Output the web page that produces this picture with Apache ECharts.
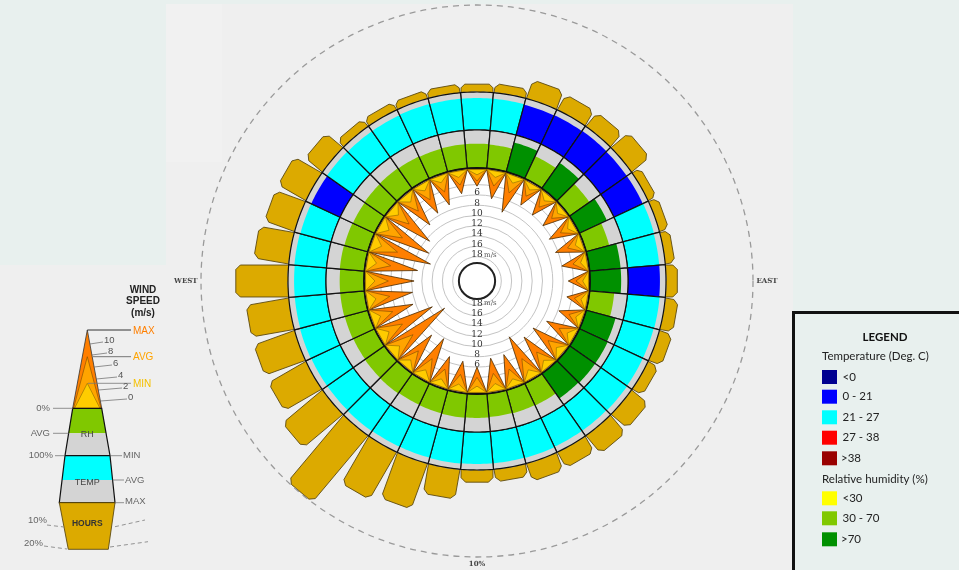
<!DOCTYPE html>
<html><head><meta charset="utf-8">
<script src="https://cdn.jsdelivr.net/npm/echarts@6/dist/echarts.min.js"></script>
<style>html,body{margin:0;padding:0;background:#e8f0ee;}#c{width:959px;height:570px;}</style>
</head><body><div id="c"></div>
<script>
// ---------------- DATA ----------------
const directions = [0,10,20,30,40,50,60,70,80,90,100,110,120,130,140,150,160,170,180,190,200,210,220,230,240,250,260,270,280,290,300,310,320,330,340,350];
const windMax = [4.3,6.5,8.5,5.7,6,6,6.5,6.5,6,5,5,5.8,7.1,8.5,8.5,10.2,7.5,7.5,6,6.9,7.1,9.8,9,14.5,12.7,9.5,10,10.5,11,13.1,11.9,10.7,8.5,7.5,7,5.5];
const windAvg = [3.3,4,4.5,3.7,4,3.8,4,4,3.8,3.5,3.5,3.7,4.3,4.7,4.7,5.3,4.5,4.5,4,4.3,4.5,5.3,5,6.5,6,5.3,5.5,5.5,5.7,6.3,6,5.5,5,4.5,4.3,3.8];
const windMin = [2.1,2.3,2.5,2.3,2.4,2.3,2.4,2.4,2.3,2.2,2.2,2.3,2.5,2.6,2.6,2.8,2.5,2.5,2.3,2.4,2.5,2.8,2.7,3.1,3,2.8,2.8,2.9,2.9,3,3,2.8,2.7,2.5,2.4,2.3];
const rhAvg = [64,63,80,65,82,64,80,63,82,82,65,80,82,82,80,64,63,62,63,64,63,62,64,63,62,63,64,64,65,64,63,64,65,64,63,64];
const tempAvg = [23,22,18,17,17,18,19,22,23,19,23,24,24,25,25,24,24,25,25,25,24,24,23,23,24,23,23,22,23,22,19,22,22,23,23,23];
const tempAvgPos = [84,84,83,84,85,84,84,85,84,84,85,84,84,85,84,84,85,84,84,85,84,84,85,84,84,85,84,84,85,84,84,85,84,84,85,84];
const hoursPct = [0.9,1.0,2.2,1.95,2.0,2.6,1.0,1.05,1.05,1.3,1.45,1.5,1.3,2.4,2.6,2.0,2.1,1.4,1.4,3.4,5.5,6.2,9.9,5.9,4.9,4.9,4.9,6.0,4.0,3.6,3.6,2.5,1.0,0.93,0.9,0.93];
const windGrid = [4,6,8,10,12,14,16,18];
const windTicks = [6,8,10,12,14,16,18];
const compassLabels = ['EAST','10%','WEST'];
const compassAngles = [90,180,270];
const tempLegend = ['<0','0 - 21','21 - 27','27 - 38','>38'];
const tempColors = ['#000090','#0000ff','#00ffff','#ff0000','#990000'];
const rhLegend = ['<30','30 - 70','>70'];
const rhColors = ['#ffff00','#80c800','#009000'];

// ---------------- HELPERS ----------------
const CX = 477, CY = 281, HALF = 5, WIND_BASE = 1, HUB_V = 19.2, NOTE_V = 10.4;
const GRAY = '#d4d4d4';
function tempColor(t){ return t<0?tempColors[0]:t<21?tempColors[1]:t<27?tempColors[2]:t<38?tempColors[3]:tempColors[4]; }
function rhColor(h){ return h<30?rhColors[0]:h<=70?rhColors[1]:rhColors[2]; }
function ringCell(api, v0, v1, a0, a1){
  const pts=[];
  for(let a=a0;a<=a1+1e-9;a+=1) pts.push(api.coord([v1,a]));
  for(let a=a1;a>=a0-1e-9;a-=1) pts.push(api.coord([v0,a]));
  return pts;
}
function dist(p,c){ return Math.hypot(p[0]-c.cx,p[1]-c.cy); }
function txt(text,x,y,font,fill,align,valign){
  return {type:'text', x:x, y:y, style:{text:text, font:font, fill:fill, align:align, verticalAlign:valign, textAlign:align, textVerticalAlign:valign}};
}

const chart = echarts.init(document.getElementById('c'), null, {renderer:'canvas'});

const series = [];
// hours bars
series.push({type:'custom', coordinateSystem:'polar', polarIndex:3, z:1, silent:true,
  data: directions.map((a,i)=>[hoursPct[i],a]),
  renderItem(params, api){
    const h=api.value(0), a=api.value(1);
    const p0=api.coord([-0.3,a]), p1=api.coord([h,a]);
    const l=api.coord([0,a-HALF]), r=api.coord([0,a+HALF]);
    const w=Math.hypot(r[0]-l[0],r[1]-l[1])/2*0.97;
    const len=Math.hypot(p1[0]-p0[0],p1[1]-p0[1]);
    const ux=(p1[0]-p0[0])/len, uy=(p1[1]-p0[1])/len, nx=-uy, ny=ux;
    const c=Math.min(4.5,len*0.35);
    const pts=[[p0[0]+nx*w,p0[1]+ny*w],[p1[0]+nx*w-ux*c,p1[1]+ny*w-uy*c],[p1[0]+nx*(w-c),p1[1]+ny*(w-c)],
      [p1[0]-nx*(w-c),p1[1]-ny*(w-c)],[p1[0]-nx*w-ux*c,p1[1]-ny*w-uy*c],[p0[0]-nx*w,p0[1]-ny*w]];
    return {type:'polygon', shape:{points:pts}, style:{fill:'#dcaa00', stroke:'#5c4a10', lineWidth:0.9}};
  }});
// temperature ring
series.push({type:'custom', coordinateSystem:'polar', polarIndex:2, z:2, silent:true,
  data: directions.map((a,i)=>[tempAvgPos[i],a]),
  renderItem(params, api){
    const v=api.value(0), a=api.value(1), i=params.dataIndex;
    return {type:'group', children:[
      {type:'polygon', shape:{points:ringCell(api,0,100,a-HALF,a+HALF)}, style:{fill:GRAY}},
      {type:'polygon', shape:{points:ringCell(api,0,v,a-HALF,a+HALF)}, style:{fill:tempColor(tempAvg[i])}},
      {type:'polygon', shape:{points:ringCell(api,0,100,a-HALF,a+HALF)}, style:{fill:'none', stroke:'#111', lineWidth:1.2}}
    ]};
  }});
// humidity ring
series.push({type:'custom', coordinateSystem:'polar', polarIndex:1, z:2, silent:true,
  data: directions.map((a,i)=>[rhAvg[i],a]),
  renderItem(params, api){
    const v=api.value(0), a=api.value(1);
    return {type:'group', children:[
      {type:'polygon', shape:{points:ringCell(api,0,100,a-HALF,a+HALF)}, style:{fill:GRAY}},
      {type:'polygon', shape:{points:ringCell(api,0,v,a-HALF,a+HALF)}, style:{fill:rhColor(v)}},
      {type:'polygon', shape:{points:ringCell(api,0,100,a-HALF,a+HALF)}, style:{fill:'none', stroke:'#111', lineWidth:1.2}}
    ]};
  }});
// inner white disk
series.push({type:'custom', coordinateSystem:'polar', polarIndex:1, z:3, silent:true,
  data:[[0,0]],
  renderItem(params, api){
    const c=params.coordSys, r=dist(api.coord([0,0]),c);
    return {type:'circle', shape:{cx:c.cx,cy:c.cy,r:r}, style:{fill:'#ffffff', stroke:'#111', lineWidth:1.8}};
  }});
// wind grid circles
series.push({type:'custom', coordinateSystem:'polar', polarIndex:0, z:4, silent:true,
  data: windGrid.map(t=>[t,0]),
  renderItem(params, api){
    const c=params.coordSys, r=dist(api.coord([api.value(0),0]),c);
    return {type:'circle', shape:{cx:c.cx,cy:c.cy,r:r}, style:{fill:'none', stroke:'#c4c4c4', lineWidth:1}};
  }});
// wind spikes
series.push({type:'custom', coordinateSystem:'polar', polarIndex:0, z:5, silent:true,
  data: directions.map((a,i)=>[windMax[i],a]),
  renderItem(params, api){
    const i=params.dataIndex, a=api.value(1);
    const tri=v=>[api.coord([WIND_BASE,a-HALF]),api.coord([v,a]),api.coord([WIND_BASE,a+HALF])];
    return {type:'group', children:[
      {type:'polygon', shape:{points:tri(api.value(0))}, style:{fill:'#ff7f00', stroke:'#4a2a00', lineWidth:0.8}},
      {type:'polygon', shape:{points:tri(windAvg[i])}, style:{fill:'#ffa400', stroke:'#7a4a00', lineWidth:0.6}},
      {type:'polygon', shape:{points:tri(windMin[i])}, style:{fill:'#ffcc00', stroke:'#8a6a00', lineWidth:0.6}}
    ]};
  }});
// hub circle
series.push({type:'custom', coordinateSystem:'polar', polarIndex:0, z:6, silent:true,
  data:[[HUB_V,0]],
  renderItem(params, api){
    const c=params.coordSys, r=dist(api.coord([api.value(0),0]),c);
    return {type:'circle', shape:{cx:c.cx,cy:c.cy,r:r}, style:{fill:'#ffffff', stroke:'#222', lineWidth:2}};
  }});
// wind tick labels
series.push({type:'custom', coordinateSystem:'polar', polarIndex:0, z:7, silent:true,
  data: windTicks.map(t=>[t,0]),
  renderItem(params, api){
    const t=api.value(0), top=api.coord([t,0]), bot=api.coord([t,180]);
    const f='9px "DejaVu Serif"';
    const ch=[txt(String(t),top[0],top[1]-2,f,'#333','center','middle'),
              txt(String(t),bot[0],bot[1]-2,f,'#333','center','middle')];
    if(t===windTicks[windTicks.length-1]){
      ch.push(txt('m/s',top[0]+7,top[1]-2,'7px "DejaVu Serif"','#555','left','middle'));
      ch.push(txt('m/s',bot[0]+7,bot[1]-2,'7px "DejaVu Serif"','#555','left','middle'));
    }
    return {type:'group', children:ch};
  }});
// compass labels
series.push({type:'custom', coordinateSystem:'polar', polarIndex:3, z:7, silent:true,
  data: compassAngles.map(a=>[NOTE_V,a]),
  renderItem(params, api){
    const i=params.dataIndex, p=api.coord([api.value(0),api.value(1)]);
    const align=['left','center','right'][i], valign=['middle','top','middle'][i];
    return txt(compassLabels[i],p[0],p[1],'bold 7px "DejaVu Serif"','#444',align,valign);
  }});

// ---------------- GRAPHIC (backgrounds, keys) ----------------
const G=[];
G.push({type:'rect', z:-10, shape:{x:166,y:4,width:627,height:566}, style:{fill:'#efefef'}});
G.push({type:'rect', z:-10, shape:{x:0,y:265,width:166,height:305}, style:{fill:'#efefef'}});
G.push({type:'rect', z:-9, shape:{x:166,y:4,width:56,height:158}, style:{fill:'#f1f1f1'}});
function T(text,x,y,opt){ opt=opt||{}; return {type:'text', x:x, y:y, z:50, style:{text:text, font:opt.font||'9.5px "Liberation Sans"', fill:opt.fill||'#666',
  align:opt.align||'left', verticalAlign:'middle', textAlign:opt.align||'left', textVerticalAlign:'middle'}}; }
function P(points,fill,stroke,lw){ return {type:'polygon', z:40, shape:{points:points}, style:{fill:fill, stroke:stroke||null, lineWidth:lw||0}}; }
function L(x1,y1,x2,y2,color,lw,dash){ return {type:'line', z:45, shape:{x1:x1,y1:y1,x2:x2,y2:y2}, style:{stroke:color||'#555', lineWidth:lw||1, lineDash:dash||null}}; }
// wind key
G.push(T('WIND',143,290,{font:'bold 10px "Liberation Sans"',fill:'#222',align:'center'}));
G.push(T('SPEED',143,301.7,{font:'bold 10px "Liberation Sans"',fill:'#222',align:'center'}));
G.push(T('(m/s)',143,313.3,{font:'bold 10px "Liberation Sans"',fill:'#222',align:'center'}));
G.push(P([[87.3,330],[72.7,408.3],[101.7,408.3]],'#ff7f00','#333',0.8));
G.push(P([[87.3,356.7],[73.5,408.3],[101,408.3]],'#ffa400','#7a4a00',0.6));
G.push(P([[87.3,383.3],[74.5,408.3],[100,408.3]],'#ffcc00','#8a6a00',0.6));
G.push(L(87.3,330,131,330,'#333',1)); G.push(T('MAX',133,331,{fill:'#ff7f00',font:'10px "Liberation Sans"'}));
G.push(L(93,356.7,131,356.7,'#555',0.8)); G.push(T('AVG',133,357.5,{fill:'#ffa400',font:'10px "Liberation Sans"'}));
G.push(L(88,383.3,131,383.3,'#777',0.8)); G.push(T('MIN',133,384.5,{fill:'#f5c000',font:'10px "Liberation Sans"'}));
[['10',104,340],['8',108,351],['6',113,363],['4',118,375],['2',123,386],['0',128,397]].forEach(s=>{
  G.push(T(s[0],s[1],s[2],{fill:'#555',font:'9.5px "Liberation Sans"'}));
  const ey=s[2]+4, ex=87.3+(ey-330)/78.3*14.5;
  G.push(L(ex,ey,s[1]-1,s[2]+2,'#666',0.7));
});
// RH section
G.push(P([[72.7,408.3],[101.7,408.3],[106.1,433.3],[68.6,433.3]],'#80c800'));
G.push(P([[68.6,433.3],[106.1,433.3],[110,455.7],[65,455.7]],'#d4d4d4'));
G.push(P([[72.7,408.3],[101.7,408.3],[110,455.7],[65,455.7]],'none','#111',1.2));
G.push(T('RH',87.3,434.5,{fill:'#444',align:'center',font:'9px "Liberation Sans"'}));
// TEMP section
G.push(P([[65,455.7],[110,455.7],[112.6,480],[62,480]],'#00ffff'));
G.push(P([[62,480],[112.6,480],[115,502.7],[59.3,502.7]],'#d4d4d4'));
G.push(P([[65,455.7],[110,455.7],[115,502.7],[59.3,502.7]],'none','#111',1.2));
G.push(T('TEMP',87.3,483,{fill:'#444',align:'center',font:'9px "Liberation Sans"'}));
// HOURS section
G.push(P([[59.3,502.7],[115,502.7],[108.3,549.3],[68.3,549.3]],'#dcaa00','#5c4a10',0.9));
G.push(T('HOURS',87.3,523.5,{fill:'#333',align:'center',font:'bold 8.5px "Liberation Sans"'}));
// side labels
G.push(T('0%',50,408.3,{align:'right'})); G.push(L(53,408.3,72.7,408.3,'#777',0.8));
G.push(T('AVG',50,433.3,{align:'right'})); G.push(L(53,433.3,68.6,433.3,'#777',0.8));
G.push(T('100%',53,455.7,{align:'right'})); G.push(L(55,455.7,65,455.7,'#777',0.8));
G.push(T('MIN',123,455.7)); G.push(L(110,455.7,122,455.7,'#777',0.8));
G.push(T('AVG',125,480)); G.push(L(112.6,480,124,480,'#777',0.8));
G.push(T('MAX',125,501.7)); G.push(L(115,502.7,124,502.7,'#777',0.8));
G.push(T('10%',47,520.7,{align:'right'})); G.push(L(47,525,64,527,'#888',0.9,[4,3])); G.push(L(115,526.7,145,520,'#888',0.9,[4,3]));
G.push(T('20%',43,543,{align:'right'})); G.push(L(44,546,67,549,'#888',0.9,[4,3])); G.push(L(110,547,148,541.7,'#888',0.9,[4,3]));
// right legend box
G.push({type:'rect', z:30, shape:{x:793.5,y:312.5,width:170,height:262}, style:{fill:'#e8f0ee', stroke:'#111', lineWidth:3}});
G.push(T('LEGEND',885,337,{font:'bold 11.5px Lato',fill:'#111',align:'center'}));
G.push(T('Temperature (Deg. C)',822,356.5,{font:'11.5px Lato',fill:'#222'}));
tempLegend.forEach((s,i)=>{
  const y=[377,396.7,417.3,437.7,458.3][i];
  G.push({type:'rect', z:40, shape:{x:822,y:y-7,width:15,height:14}, style:{fill:tempColors[i]}});
  G.push(T(s,s[0]==='>'?841:842.5,y,{font:'11.5px Lato',fill:'#222'}));
});
G.push(T('Relative humidity (%)',822,479.3,{font:'11.5px Lato',fill:'#222'}));
rhLegend.forEach((s,i)=>{
  const y=[498.3,518.3,539.3][i];
  G.push({type:'rect', z:40, shape:{x:822,y:y-7,width:15,height:14}, style:{fill:rhColors[i]}});
  G.push(T(s,s[0]==='>'?841:842.5,y,{font:'11.5px Lato',fill:'#222'}));
});

const option = {
  animation:false,
  backgroundColor:'#e8f0ee',
  polar:[
    {center:[CX,CY], radius:[14,117]},
    {center:[CX,CY], radius:[113,151]},
    {center:[CX,CY], radius:[151,189]},
    {center:[CX,CY], radius:[189,276]}
  ],
  angleAxis:[0,1,2,3].map(i=>({polarIndex:i, type:'value', min:0, max:360, startAngle:90, clockwise:true, z:1,
    show:i===3, axisLine:{show:true, lineStyle:{color:'#9a9a9a', width:1.3, type:[6,5]}},
    axisTick:{show:false}, axisLabel:{show:false}, splitLine:{show:false}, splitArea:{show:false}})),
  radiusAxis:[
    {polarIndex:0, type:'value', min:0, max:20, inverse:true, show:false},
    {polarIndex:1, type:'value', min:0, max:100, show:false},
    {polarIndex:2, type:'value', min:0, max:100, show:false},
    {polarIndex:3, type:'value', min:0, max:10, show:false}
  ],
  series:series,
  graphic:{elements:G}
};
chart.setOption(option);
</script></body></html>
